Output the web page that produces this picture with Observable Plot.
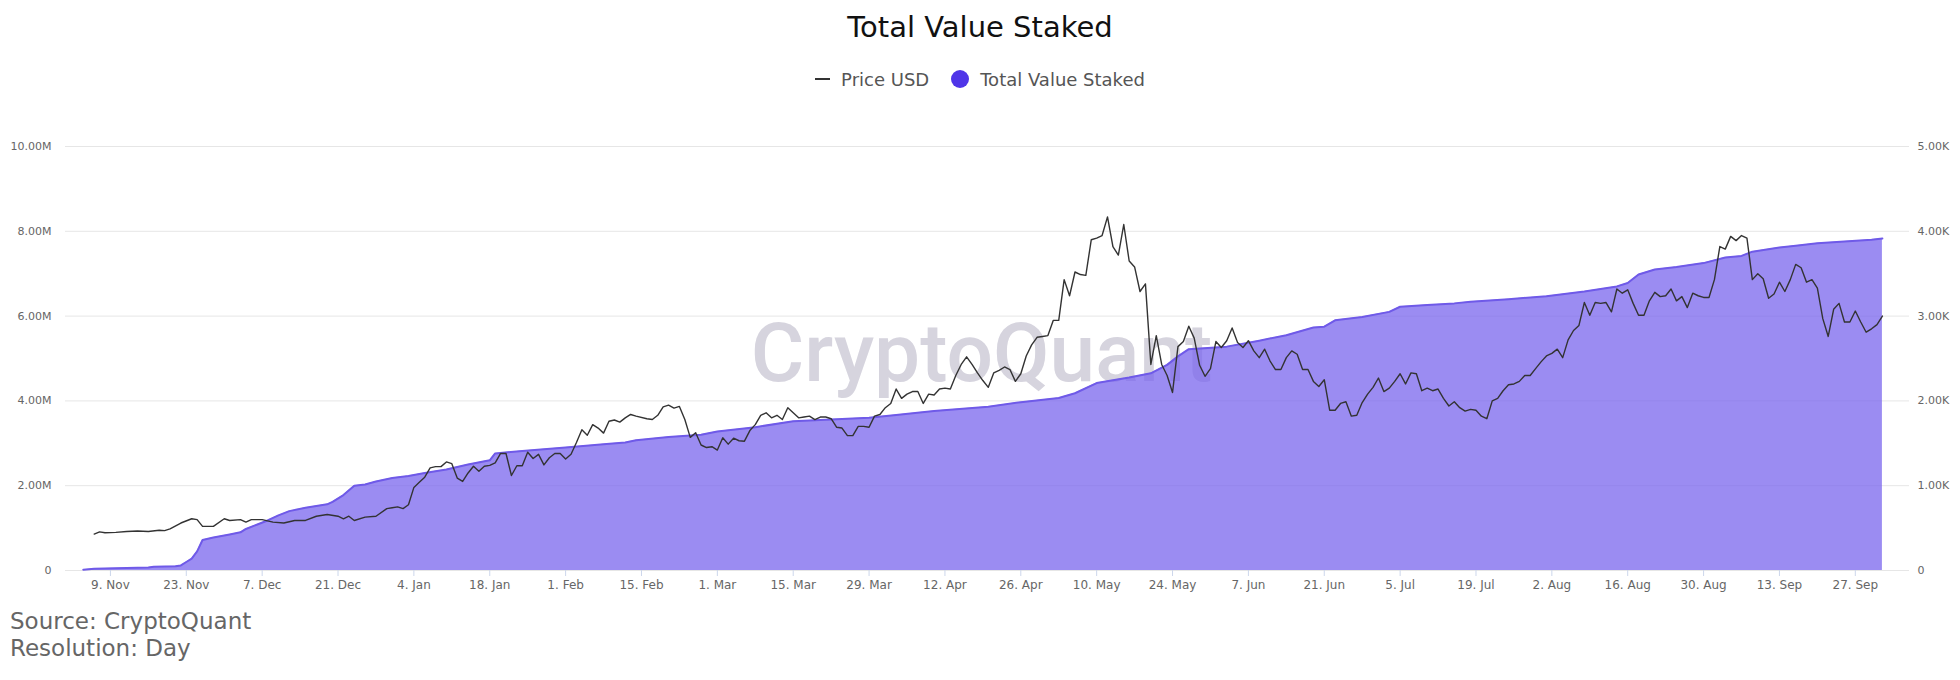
<!DOCTYPE html>
<html><head><meta charset="utf-8">
<script src="https://cdn.jsdelivr.net/npm/d3@7"></script>
<script src="https://cdn.jsdelivr.net/npm/@observablehq/plot@0.6"></script>
<style>
body{margin:0;background:#fff;font-family:"DejaVu Sans",sans-serif;width:1960px;overflow:hidden}
#title{height:52px;line-height:54px;text-align:center;font-size:29px;color:#111}
#legend{height:48px;padding-top:6px;box-sizing:border-box;display:flex;justify-content:center;align-items:center;font-size:18px;color:#555;gap:6px}
#legend .ln{display:inline-block;width:15px;height:2px;background:#333;margin-right:5px}
#legend .dt{display:inline-block;width:18px;height:18px;border-radius:50%;background:#4f35e8;margin:0 5px 0 16px}
#src{padding-left:10px;font-size:23px;color:#666;line-height:27px;margin-top:8px}
</style></head><body>
<div id="title">Total Value Staked</div>
<div id="legend"><span class="ln"></span>Price USD<span class="dt"></span>Total Value Staked</div>
<div id="chart"></div>
<div id="src">Source: CryptoQuant<br>Resolution: Day</div>
<script>
const stakedDates = ["2020-11-04","2020-11-06","2020-11-12","2020-11-16","2020-11-17","2020-11-21","2020-11-22","2020-11-23","2020-11-24","2020-11-25","2020-11-26","2020-11-28","2020-12-01","2020-12-03","2020-12-04","2020-12-06","2020-12-08","2020-12-10","2020-12-12","2020-12-15","2020-12-19","2020-12-20","2020-12-22","2020-12-24","2020-12-26","2020-12-28","2020-12-31","2021-01-03","2021-01-06","2021-01-10","2021-01-14","2021-01-18","2021-01-19","2021-01-24","2021-02-01","2021-02-08","2021-02-12","2021-02-14","2021-02-20","2021-02-26","2021-03-01","2021-03-08","2021-03-15","2021-03-22","2021-03-29","2021-04-03","2021-04-10","2021-04-20","2021-04-26","2021-05-03","2021-05-06","2021-05-10","2021-05-16","2021-05-20","2021-05-23","2021-05-25","2021-05-27","2021-06-03","2021-06-09","2021-06-14","2021-06-19","2021-06-21","2021-06-23","2021-06-28","2021-07-03","2021-07-05","2021-07-10","2021-07-15","2021-07-18","2021-07-25","2021-08-01","2021-08-08","2021-08-14","2021-08-16","2021-08-18","2021-08-21","2021-08-25","2021-08-30","2021-09-03","2021-09-06","2021-09-08","2021-09-13","2021-09-16","2021-09-20","2021-09-25","2021-09-30","2021-10-02"];
const stakedValues = [0.02,0.04,0.06,0.07,0.09,0.10,0.12,0.20,0.28,0.45,0.72,0.78,0.85,0.90,0.98,1.08,1.18,1.30,1.40,1.48,1.56,1.62,1.78,2.00,2.03,2.10,2.18,2.23,2.30,2.38,2.50,2.60,2.76,2.82,2.90,2.98,3.02,3.07,3.15,3.20,3.28,3.38,3.52,3.56,3.60,3.67,3.76,3.86,3.97,4.07,4.18,4.42,4.55,4.65,4.85,5.05,5.22,5.28,5.42,5.55,5.73,5.75,5.90,5.98,6.10,6.22,6.26,6.30,6.34,6.40,6.47,6.58,6.70,6.78,6.98,7.10,7.16,7.25,7.38,7.42,7.52,7.62,7.66,7.72,7.76,7.80,7.83];
const priceDates = ["2020-11-06","2020-11-07","2020-11-08","2020-11-10","2020-11-12","2020-11-14","2020-11-16","2020-11-18","2020-11-19","2020-11-20","2020-11-22","2020-11-24","2020-11-25","2020-11-26","2020-11-28","2020-11-30","2020-12-01","2020-12-03","2020-12-04","2020-12-05","2020-12-07","2020-12-09","2020-12-11","2020-12-13","2020-12-15","2020-12-17","2020-12-19","2020-12-21","2020-12-22","2020-12-23","2020-12-24","2020-12-26","2020-12-28","2020-12-30","2020-12-31","2021-01-01","2021-01-02","2021-01-03","2021-01-04","2021-01-05","2021-01-06","2021-01-07","2021-01-08","2021-01-09","2021-01-10","2021-01-11","2021-01-12","2021-01-13","2021-01-14","2021-01-15","2021-01-16","2021-01-17","2021-01-18","2021-01-19","2021-01-20","2021-01-21","2021-01-22","2021-01-23","2021-01-24","2021-01-25","2021-01-26","2021-01-27","2021-01-28","2021-01-29","2021-01-30","2021-01-31","2021-02-01","2021-02-02","2021-02-03","2021-02-04","2021-02-05","2021-02-06","2021-02-07","2021-02-08","2021-02-09","2021-02-10","2021-02-11","2021-02-12","2021-02-13","2021-02-14","2021-02-16","2021-02-17","2021-02-18","2021-02-19","2021-02-20","2021-02-21","2021-02-22","2021-02-23","2021-02-24","2021-02-25","2021-02-26","2021-02-27","2021-02-28","2021-03-01","2021-03-02","2021-03-03","2021-03-04","2021-03-05","2021-03-06","2021-03-07","2021-03-08","2021-03-09","2021-03-10","2021-03-11","2021-03-12","2021-03-13","2021-03-14","2021-03-15","2021-03-16","2021-03-17","2021-03-18","2021-03-19","2021-03-20","2021-03-21","2021-03-22","2021-03-23","2021-03-24","2021-03-25","2021-03-26","2021-03-27","2021-03-28","2021-03-29","2021-03-30","2021-03-31","2021-04-01","2021-04-02","2021-04-03","2021-04-04","2021-04-05","2021-04-06","2021-04-07","2021-04-08","2021-04-09","2021-04-10","2021-04-11","2021-04-12","2021-04-13","2021-04-14","2021-04-15","2021-04-16","2021-04-17","2021-04-18","2021-04-19","2021-04-20","2021-04-21","2021-04-22","2021-04-23","2021-04-24","2021-04-25","2021-04-26","2021-04-27","2021-04-28","2021-04-29","2021-04-30","2021-05-01","2021-05-02","2021-05-03","2021-05-04","2021-05-05","2021-05-06","2021-05-07","2021-05-08","2021-05-09","2021-05-10","2021-05-11","2021-05-12","2021-05-13","2021-05-14","2021-05-15","2021-05-16","2021-05-17","2021-05-18","2021-05-19","2021-05-20","2021-05-21","2021-05-22","2021-05-23","2021-05-24","2021-05-25","2021-05-26","2021-05-27","2021-05-28","2021-05-29","2021-05-30","2021-05-31","2021-06-01","2021-06-02","2021-06-03","2021-06-04","2021-06-05","2021-06-06","2021-06-07","2021-06-08","2021-06-09","2021-06-10","2021-06-11","2021-06-12","2021-06-13","2021-06-14","2021-06-15","2021-06-16","2021-06-17","2021-06-18","2021-06-19","2021-06-20","2021-06-21","2021-06-22","2021-06-23","2021-06-24","2021-06-25","2021-06-26","2021-06-27","2021-06-28","2021-06-29","2021-06-30","2021-07-01","2021-07-02","2021-07-03","2021-07-04","2021-07-05","2021-07-06","2021-07-07","2021-07-08","2021-07-09","2021-07-10","2021-07-11","2021-07-12","2021-07-13","2021-07-14","2021-07-15","2021-07-16","2021-07-17","2021-07-18","2021-07-19","2021-07-20","2021-07-21","2021-07-22","2021-07-23","2021-07-24","2021-07-25","2021-07-26","2021-07-27","2021-07-28","2021-07-29","2021-07-30","2021-07-31","2021-08-01","2021-08-02","2021-08-03","2021-08-04","2021-08-05","2021-08-06","2021-08-07","2021-08-08","2021-08-09","2021-08-10","2021-08-11","2021-08-12","2021-08-13","2021-08-14","2021-08-15","2021-08-16","2021-08-17","2021-08-18","2021-08-19","2021-08-20","2021-08-21","2021-08-22","2021-08-23","2021-08-24","2021-08-25","2021-08-26","2021-08-27","2021-08-28","2021-08-29","2021-08-30","2021-08-31","2021-09-01","2021-09-02","2021-09-03","2021-09-04","2021-09-05","2021-09-06","2021-09-07","2021-09-08","2021-09-09","2021-09-10","2021-09-11","2021-09-12","2021-09-13","2021-09-14","2021-09-15","2021-09-16","2021-09-17","2021-09-18","2021-09-19","2021-09-20","2021-09-21","2021-09-22","2021-09-23","2021-09-24","2021-09-25","2021-09-26","2021-09-27","2021-09-28","2021-09-29","2021-09-30","2021-10-01","2021-10-02"];
const priceValues = [430,455,445,450,460,465,460,475,470,490,560,610,600,520,520,610,590,600,570,600,600,570,560,590,590,640,660,640,610,640,590,630,640,730,740,750,730,775,980,1040,1100,1210,1225,1225,1280,1260,1090,1050,1150,1230,1170,1230,1240,1270,1380,1380,1120,1235,1235,1395,1320,1370,1245,1330,1380,1380,1315,1370,1510,1660,1595,1720,1680,1620,1760,1775,1750,1800,1840,1820,1790,1780,1830,1930,1950,1915,1935,1780,1570,1625,1480,1450,1460,1420,1565,1490,1560,1530,1525,1650,1720,1830,1860,1800,1830,1780,1920,1860,1800,1810,1820,1780,1810,1810,1790,1690,1680,1590,1590,1700,1700,1690,1820,1840,1920,1970,2140,2030,2080,2110,2110,1970,2080,2070,2140,2150,2140,2300,2430,2520,2430,2330,2240,2160,2330,2360,2400,2370,2230,2320,2530,2660,2750,2760,2770,2950,2950,3430,3240,3520,3490,3480,3900,3920,3950,4170,3820,3720,4080,3650,3580,3290,3380,2430,2770,2430,2300,2100,2640,2700,2880,2740,2420,2290,2380,2700,2630,2710,2860,2690,2630,2710,2590,2510,2610,2470,2370,2370,2510,2590,2550,2370,2370,2230,2170,2250,1890,1890,1970,1990,1820,1830,1980,2080,2160,2270,2110,2150,2230,2320,2200,2330,2320,2120,2150,2120,2140,2030,1940,1990,1920,1880,1900,1890,1820,1790,2000,2030,2120,2190,2200,2230,2300,2300,2380,2460,2530,2560,2610,2510,2720,2830,2890,3160,3010,3160,3150,3160,3050,3320,3270,3310,3150,3010,3010,3180,3280,3230,3240,3320,3180,3230,3100,3270,3240,3220,3220,3430,3820,3790,3940,3890,3950,3920,3430,3500,3440,3210,3260,3400,3290,3430,3610,3570,3400,3430,3330,2970,2760,3080,3150,2930,2930,3060,2930,2810,2850,2900,3000];
const leftTicks = [0,2,4,6,8,10];
const leftTickLabels = ["0","2.00M","4.00M","6.00M","8.00M","10.00M"];
const rightTickLabels = ["0","1.00K","2.00K","3.00K","4.00K","5.00K"];
const xTickDates = ["2020-11-09","2020-11-23","2020-12-07","2020-12-21","2021-01-04","2021-01-18","2021-02-01","2021-02-15","2021-03-01","2021-03-15","2021-03-29","2021-04-12","2021-04-26","2021-05-10","2021-05-24","2021-06-07","2021-06-21","2021-07-05","2021-07-19","2021-08-02","2021-08-16","2021-08-30","2021-09-13","2021-09-27"];

const P = d3.utcParse("%Y-%m-%d");
const staked = stakedDates.map((d,i)=>({date:P(d), v:stakedValues[i]}));
const price = priceDates.map((d,i)=>({date:P(d), v:priceValues[i]/500}));
const xt = xTickDates.map(P);
const fmt = d3.utcFormat("%-d. %b");

const chart = Plot.plot({
  width:1960, height:500,
  marginLeft:65, marginRight:51, marginTop:46, marginBottom:30,
  style:{fontFamily:"DejaVu Sans", fontSize:"11px", color:"#666"},
  x:{type:"utc", domain:[new Date(Date.UTC(2020,9,31,17)), P("2021-10-07")]},
  y:{domain:[0,10]},
  marks:[
    Plot.gridY(leftTicks,{stroke:"#e6e6e6", strokeOpacity:1}),
    Plot.text(["CryptoQuant"],{frameAnchor:"middle", dx:-6, dy:-4, fontSize:82, fontFamily:"Roboto", fontWeight:500, fill:"#d6d4de"}),
    Plot.areaY(staked,{x:"date", y:"v", fill:"#7a66ee", fillOpacity:0.75, curve:"linear"}),
    Plot.lineY(staked,{x:"date", y:"v", stroke:"#6f5ae8", strokeWidth:2}),
    Plot.lineY(price,{x:"date", y:"v", stroke:"#333", strokeWidth:1.4}),
    Plot.axisY(leftTicks,{anchor:"left", label:null, tickSize:0, tickPadding:14, tickFormat:(d,i)=>leftTickLabels[i], fill:"#666", fontSize:11}),
    Plot.axisY(leftTicks,{anchor:"right", label:null, tickSize:0, tickPadding:8, tickFormat:(d,i)=>rightTickLabels[i], fill:"#666", fontSize:11, textAnchor:"start"}),
    Plot.axisX(xt,{label:null, tickFormat:fmt, tickSize:6, stroke:"#ccd6eb", tickPadding:4, fill:"#666", fontSize:12}),
  ]
});
document.getElementById("chart").appendChild(chart);
</script></body></html>
